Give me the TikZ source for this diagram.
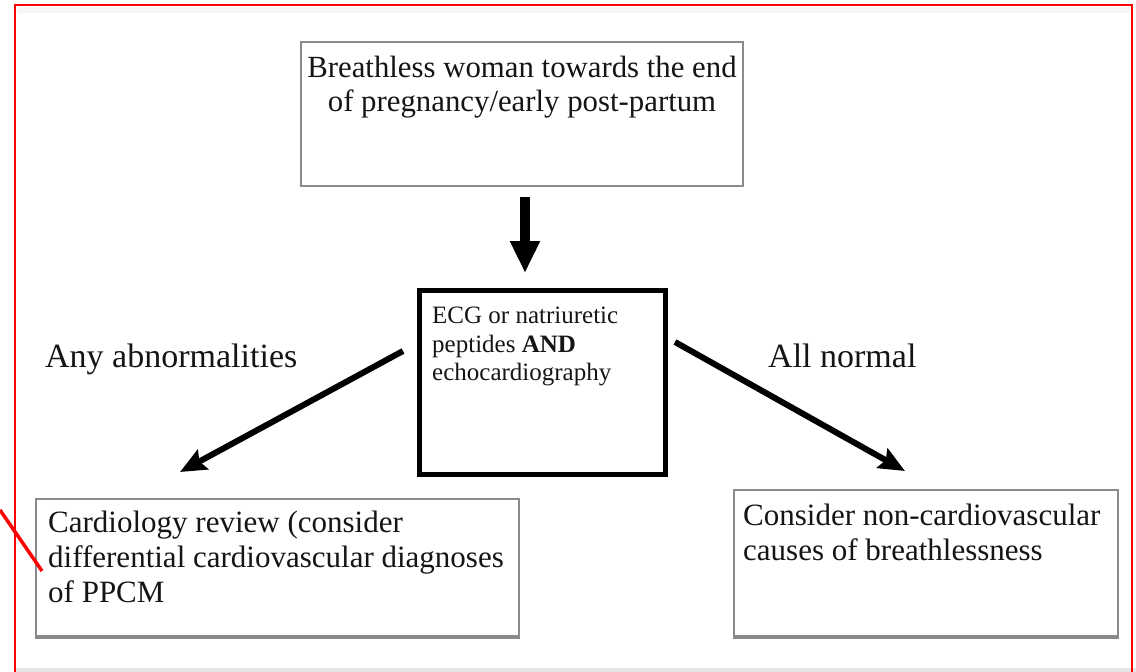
\documentclass[tikz,border=0pt]{standalone}
\usepackage{fontspec}
\setmainfont{Liberation Serif}
\usetikzlibrary{arrows.meta}
\definecolor{boxgray}{HTML}{8A8A8A}
\definecolor{txt}{HTML}{151515}
\definecolor{bandgray}{HTML}{E6E6E6}
\begin{document}
\begin{tikzpicture}[x=1pt,y=-1pt,
  graybox/.style={draw=boxgray, line width=2pt, fill=white, inner sep=0pt, anchor=north west},
  blackbox/.style={draw=black, line width=4.5pt, inner sep=0pt, anchor=north west},
  shadowline/.style={draw=boxgray, line width=4pt},
  boxtext/.style={inner sep=0pt, text=txt},
  flowarrow/.style={draw=black, line width=6pt, -{Stealth[length=26pt,width=22pt,inset=4pt]}},
  downarrow/.style={draw=black, line width=10pt, -{Triangle[length=32pt,width=28pt]}},
  redline/.style={draw=red, line width=2.5pt}]
\useasboundingbox (0,0) rectangle (1136,672);
% page frame
\fill[bandgray] (16,668) rectangle (1136,672);
\fill[gray!7] (17,7) rectangle (1130,13);
\draw[redline] (15,690) -- (15,5) -- (1132,5) -- (1132,690);
% boxes
\node[graybox, minimum width=442pt, minimum height=144pt] (topbox) at (300,41) {};
\node[blackbox, minimum width=246pt, minimum height=184pt] (midbox) at (417,288) {};
\node[graybox, minimum width=483pt, minimum height=137pt] (leftbox) at (35,498) {};
\node[graybox, minimum width=384pt, minimum height=146pt] (rightbox) at (733,489) {};
\draw[shadowline] (leftbox.south west) -- (leftbox.south east);
\draw[shadowline] (rightbox.south west) -- (rightbox.south east);
% red pointer
\coordinate (r1) at (0,510);
\coordinate (r2) at (42,571);
\draw[redline, line width=3.5pt] (r1) -- (r2);
% texts
\node[boxtext, anchor=north, align=center, font=\fontsize{30.8}{34}\selectfont] (toptext) at (522,56)
  {Breathless woman towards the end\\of pregnancy/early post-partum};
\node[boxtext, anchor=north west, align=left, font=\fontsize{25}{28.5}\selectfont] (midtext) at (432,307)
  {ECG or natriuretic\\peptides \textbf{AND}\\echocardiography};
\node[boxtext, anchor=north west, align=left, font=\fontsize{31}{35}\selectfont] (lefttext) at (48,511)
  {Cardiology review (consider\\differential cardiovascular diagnoses\\of PPCM};
\node[boxtext, anchor=north west, align=left, font=\fontsize{31}{35}\selectfont] (righttext) at (743,504)
  {Consider non-cardiovascular\\causes of breathlessness};
\node[boxtext, anchor=base west, font=\fontsize{34}{38}\selectfont] (anylabel) at (45,367) {Any abnormalities};
\node[boxtext, anchor=base west, font=\fontsize{34}{38}\selectfont] (alllabel) at (768,367) {All normal};
% arrows
\coordinate (d1) at (525,197);
\coordinate (d2) at (525,273);
\coordinate (l1) at (403,351);
\coordinate (l2) at (180,472);
\coordinate (q1) at (675,342);
\coordinate (q2) at (905,471);
\draw[downarrow] (d1) -- (d2);
\draw[flowarrow] (l1) -- (l2);
\draw[flowarrow] (q1) -- (q2);
\end{tikzpicture}
\end{document}
